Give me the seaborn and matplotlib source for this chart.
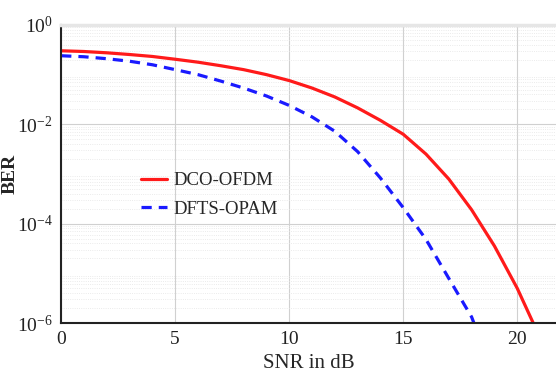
import numpy as np
import pandas as pd
import matplotlib
matplotlib.use("Agg")
import matplotlib.pyplot as plt
import seaborn as sns
from matplotlib.lines import Line2D

snr_dco = [0, 1, 2, 3, 4, 5, 6, 7, 8, 9, 10, 11, 12, 13, 14, 15, 16, 17, 18, 19, 20, 20.7]
ber_dco = [0.302, 0.292, 0.275, 0.254, 0.232, 0.204, 0.178, 0.151, 0.126, 0.100, 0.0759,
           0.0537, 0.0355, 0.0214, 0.0120, 0.00631, 0.00251, 7.9e-4, 1.9e-4, 3.55e-5, 5.0e-6, 1.0e-6]
snr_dfts = [0, 1, 2, 3, 4, 5, 6, 7, 8, 9, 10, 11, 12, 13, 14, 15, 16, 17, 18, 18.1]
ber_dfts = [0.240, 0.229, 0.209, 0.186, 0.158, 0.126, 0.100, 0.0741, 0.0537, 0.0372, 0.0240,
            0.0141, 0.00724, 0.00282, 8.3e-4, 2.1e-4, 4.8e-5, 7.9e-6, 1.32e-6, 1.0e-6]
labels = ["DCO-OFDM", "DFTS-OPAM"]
x_ticks = [0, 5, 10, 15, 20]

df = pd.concat([
    pd.DataFrame({"SNR": snr_dco, "BER": ber_dco, "Scheme": labels[0]}),
    pd.DataFrame({"SNR": snr_dfts, "BER": ber_dfts, "Scheme": labels[1]}),
])

sns.set_style("white")
plt.rcParams["font.family"] = ["Liberation Serif", "DejaVu Serif"]
plt.rcParams["mathtext.fontset"] = "custom"
plt.rcParams["mathtext.rm"] = "Liberation Serif"
plt.rcParams["mathtext.it"] = "Liberation Serif"

fig = plt.figure(figsize=(5.56, 3.78), dpi=100)
ax = fig.add_axes([0.11, 0.1455, 0.89, 0.7885])

sns.lineplot(data=df, x="SNR", y="BER", hue="Scheme", style="Scheme",
             palette={labels[0]: "#ff1a1a", labels[1]: "#1a1aff"},
             dashes={labels[0]: "", labels[1]: (3.2, 2.2)},
             linewidth=2.3, ax=ax, legend=False)

ax.set_yscale("log")
ax.set_xlim(0, 21.7)
ax.set_ylim(1e-6, 1)
ax.set_xticks(x_ticks)
ax.set_xticklabels([str(t) for t in x_ticks], fontsize=14)
ax.set_yticks([1, 1e-2, 1e-4, 1e-6])
ax.set_yticklabels([r"$10^{0}$", r"$10^{-2}$", r"$10^{-4}$", r"$10^{-6}$"], fontsize=14)
ax.yaxis.set_minor_locator(matplotlib.ticker.LogLocator(base=10, subs=np.arange(2, 10), numticks=20))
ax.yaxis.set_minor_formatter(matplotlib.ticker.NullFormatter())
ax.tick_params(axis="both", direction="in", length=4, width=1, colors="#222222", pad=6)
ax.tick_params(axis="y", which="minor", direction="in", length=2)
ax.grid(True, which="major", color="#d0d0d0", linewidth=0.8)
ax.grid(True, which="minor", axis="y", color="#e4e4e4", linewidth=0.6, linestyle=":")
ax.set_xlabel("SNR in dB", fontsize=15, labelpad=4)
ax.set_ylabel("BER", fontsize=14, fontweight="bold")
ax.yaxis.set_label_coords(-0.085, 0.5)
for s in ["left", "bottom"]:
    ax.spines[s].set_color("#222222")
    ax.spines[s].set_linewidth(1.5)
ax.spines["top"].set_color("#e6e6e6")
ax.spines["top"].set_linewidth(2.5)
ax.spines["right"].set_visible(False)

handles = [Line2D([], [], color="#ff1a1a", linewidth=2.3),
           Line2D([], [], color="#1a1aff", linewidth=2.3, linestyle=(0, (3.2, 2.2)))]
ax.legend(handles, labels, loc="upper left", bbox_to_anchor=(0.135, 0.55), frameon=False,
          fontsize=13.5, handlelength=1.4, handletextpad=0.3, labelspacing=0.6,
          borderpad=0.2)

fig.savefig("out.png", dpi=100)
